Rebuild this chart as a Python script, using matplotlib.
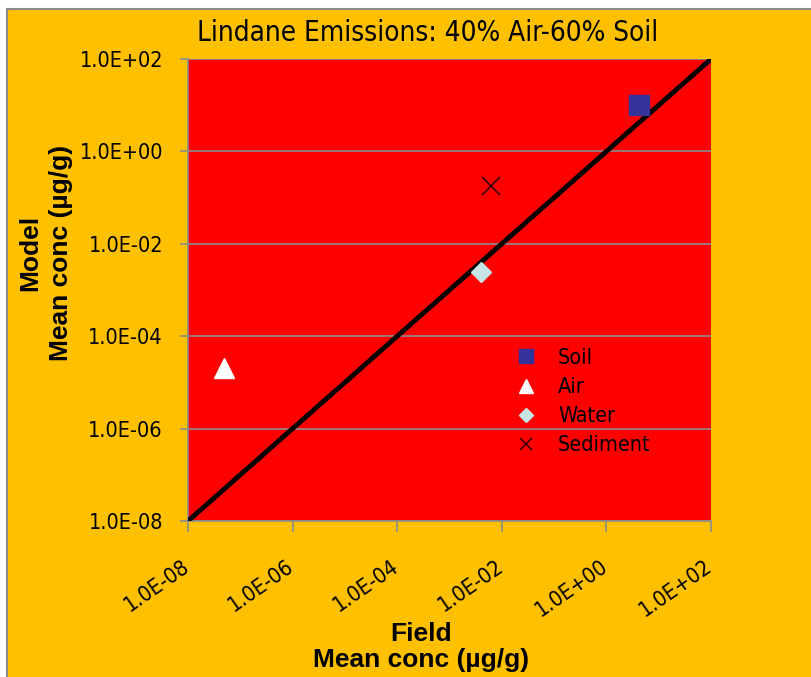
import matplotlib
matplotlib.use("Agg")
import matplotlib.pyplot as plt
from matplotlib.patches import Rectangle
from matplotlib.ticker import FixedLocator, FuncFormatter, NullLocator
from matplotlib.transforms import ScaledTranslation

# field (x) vs model (y) mean concentrations, ug/g
media = ["Soil", "Air", "Water", "Sediment"]
field_conc = [4.2, 4.9e-8, 4.0e-3, 6.2e-3]
model_conc = [10.0, 2.1e-5, 2.5e-3, 0.18]
markers = ["s", "^", "D", "x"]
colors = ["#333399", "#ffffff", "#c6e6e6", "#3a0000"]
sizes = [14, 14, 10, 13]

one_to_one = [1e-8, 1e2]
ticks = [1e-8, 1e-6, 1e-4, 1e-2, 1e0, 1e2]

ORANGE = "#ffc000"
RED = "#ff0000"
GREY = "#8c8c8c"
COND = dict(family="DejaVu Sans", stretch="condensed")

W, H = 812, 677
fig = plt.figure(figsize=(W / 100, H / 100), dpi=100)
fig.patch.set_facecolor("white")
fig.patches.append(Rectangle((7 / W, -0.01), 1.02, 1 - 9 / H + 0.01, transform=fig.transFigure,
                             facecolor=ORANGE, edgecolor=GREY, linewidth=1.5, zorder=-5))

ax = fig.add_axes([188 / W, 1 - 521 / H, (711 - 188) / W, (521 - 59) / H])
ax.set_zorder(2)
ax.set_facecolor(RED)
ax.set_xscale("log")
ax.set_yscale("log")
ax.set_xlim(1e-8, 1e2)
ax.set_ylim(1e-8, 1e2)

ax.plot(one_to_one, one_to_one, color="black", lw=3.5, solid_capstyle="butt", zorder=3)

for name, fx, my, m, c, s in zip(media, field_conc, model_conc, markers, colors, sizes):
    if m == "x":
        ax.plot(fx, my, linestyle="none", marker=m, color=c, markersize=s, mew=1.2, label=name, zorder=4)
    else:
        ax.plot(fx, my, linestyle="none", marker=m, markerfacecolor=c, markeredgecolor=c,
                markersize=s, label=name, zorder=4)

fmt = FuncFormatter(lambda v, p: f"{v:.1E}")
for axis in (ax.xaxis, ax.yaxis):
    axis.set_major_locator(FixedLocator(ticks))
    axis.set_minor_locator(NullLocator())
    axis.set_major_formatter(fmt)

ax.grid(axis="y", color=GREY, lw=1.2)
for sp in ["top", "right"]:
    ax.spines[sp].set_visible(False)
for sp in ["left", "bottom"]:
    ax.spines[sp].set_color(GREY)
    ax.spines[sp].set_linewidth(1.2)

ax.tick_params(axis="both", direction="out", width=1.2, color=GREY)
ax.tick_params(axis="y", length=6, pad=12)
ax.tick_params(axis="x", length=8, pad=17)
shift = ScaledTranslation(5 / 100, 0, fig.dpi_scale_trans)
for lab in ax.get_xticklabels():
    lab.set(rotation=35, ha="right", fontsize=15.5, **COND)
    lab.set_transform(lab.get_transform() + shift)
for lab in ax.get_yticklabels():
    lab.set(fontsize=15.5, **COND)

leg = ax.legend(loc="upper left", bbox_to_anchor=(515 / W, 1 - 348 / H), bbox_transform=fig.transFigure,
                frameon=False, prop=dict(size=15.5, **COND), markerscale=0.7, handlelength=1.0,
                handletextpad=1.0, labelspacing=0.42, borderaxespad=0, borderpad=0)

fig.text(428 / W, 1 - 33 / H, "Lindane Emissions: 40% Air-60% Soil", ha="center", va="center",
         fontsize=20, **COND)
fig.text(421 / W, 1 - 647 / H, "Field\nMean conc (µg/g)", ha="center", va="center",
         fontsize=19, fontweight="bold", family=["Liberation Sans", "DejaVu Sans"], linespacing=1.1)
fig.text(46 / W, 1 - 253 / H, "Model\nMean conc (µg/g)", ha="center", va="center", rotation=90,
         fontsize=19, fontweight="bold", family=["Liberation Sans", "DejaVu Sans"], linespacing=1.35)

fig.savefig("out.png", dpi=100)
